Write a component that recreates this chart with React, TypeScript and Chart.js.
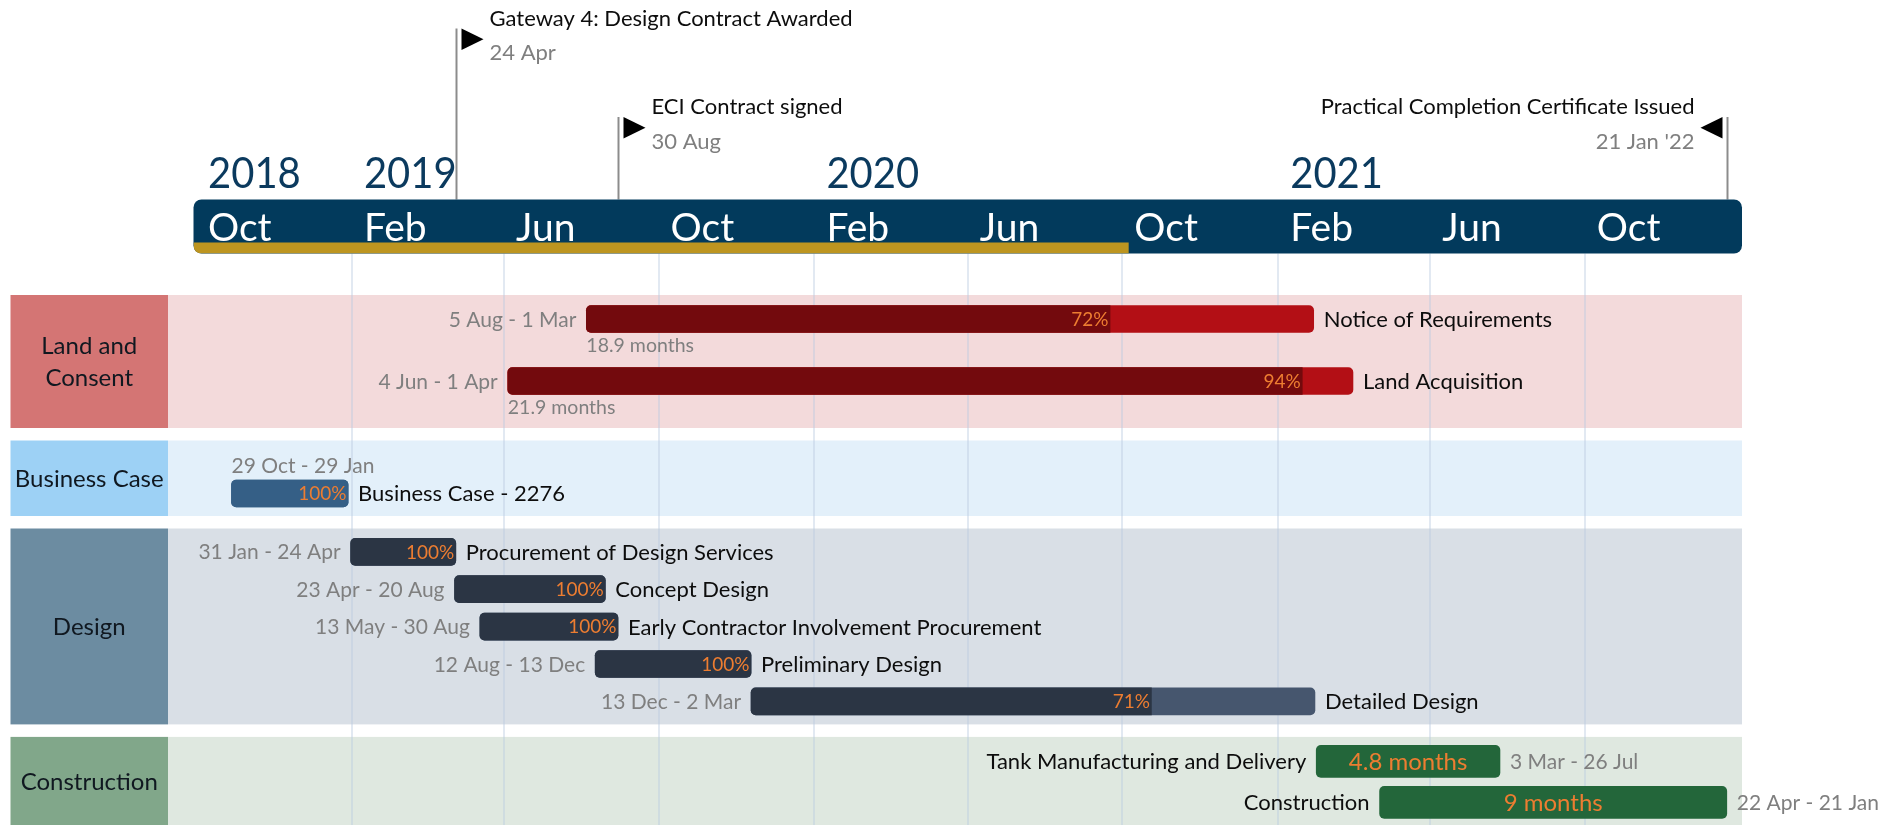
import React, { useEffect, useRef } from 'react';
import { Chart, registerables } from 'chart.js';

Chart.register(...registerables);

// ---------------- data ----------------
const groupNames = ['Land and Consent', 'Business Case', 'Design', 'Construction'];

const taskNames = [
  'Notice of Requirements',
  'Land Acquisition',
  'Business Case - 2276',
  'Procurement of Design Services',
  'Concept Design',
  'Early Contractor Involvement Procurement',
  'Preliminary Design',
  'Detailed Design',
  'Tank Manufacturing and Delivery',
  'Construction',
];
const taskGroups = [0, 0, 1, 2, 2, 2, 2, 2, 3, 3];
const taskStarts = [
  '2019-08-05', '2019-06-04', '2018-10-29', '2019-01-31', '2019-04-23',
  '2019-05-13', '2019-08-12', '2019-12-13', '2021-03-03', '2021-04-22',
];
const taskEnds = [
  '2021-03-01', '2021-04-01', '2019-01-29', '2019-04-24', '2019-08-20',
  '2019-08-30', '2019-12-13', '2021-03-02', '2021-07-26', '2022-01-21',
];
const taskProgress: (number | null)[] = [72, 94, 100, 100, 100, 100, 100, 71, null, null];

const milestoneNames = [
  'Gateway 4: Design Contract Awarded',
  'ECI Contract signed',
  'Practical Completion Certificate Issued',
];
const milestoneDates = ['2019-04-24', '2019-08-30', '2022-01-21'];
const milestoneDateLabels = ['24 Apr', '30 Aug', "21 Jan '22"];
const milestoneTiers = [1, 0, 0];

const axisStart = '2018-09-29';
const axisEnd = '2022-02-02';
const statusDate = '2020-10-06';

const monthTicks = [
  '2018-10-01', '2019-02-01', '2019-06-01', '2019-10-01', '2020-02-01',
  '2020-06-01', '2020-10-01', '2021-02-01', '2021-06-01', '2021-10-01',
];
const monthTickLabels = ['Oct', 'Feb', 'Jun', 'Oct', 'Feb', 'Jun', 'Oct', 'Feb', 'Jun', 'Oct'];
const yearLabels = ['2018', '2019', '2020', '2021'];
const yearLabelTicks = ['2018-10-01', '2019-02-01', '2020-02-01', '2021-02-01'];

// ---------------- style / layout ----------------
const W = 1897;
const H = 825;
const FONT = 'Lato';
const CAP = 0.72;

type GroupStyle = {
  box: string; band: string; done: string; rest: string; thickness: number;
  mode: 'land' | 'business' | 'design' | 'construction';
  padTop: number; pitch: number; padBottom: number;
};
const groupStyles: GroupStyle[] = [
  { box: '#D47574', band: '#F3DADB', done: '#730A0D', rest: '#B30F15', thickness: 27, mode: 'land', padTop: 24, pitch: 62, padBottom: 47 },
  { box: '#9DD1F5', band: '#E3F0FA', done: '#355F86', rest: '#355F86', thickness: 27, mode: 'business', padTop: 53, pitch: 37, padBottom: 22.5 },
  { box: '#6C8CA1', band: '#D9DFE6', done: '#2B3544', rest: '#46566E', thickness: 27, mode: 'design', padTop: 23.3, pitch: 37.4, padBottom: 23 },
  { box: '#81A78A', band: '#DFE8E0', done: '#23663A', rest: '#23663A', thickness: 32, mode: 'construction', padTop: 24.5, pitch: 41, padBottom: 24 },
];
const LAYOUT_TOP = 295;
const GROUP_GAP = 12.5;
const BOX_LEFT = 10.5;
const BOX_RIGHT = 168;
const AXIS_TOP = 199.5;
const AXIS_BOTTOM = 253.5;
const GOLD_H = 11;

const NAVY = '#023A5C';
const GOLD = '#BD9520';
const ORANGE = '#ED7D31';
const GREY = '#7F7F7F';
const INK = '#0D0D0D';

const MONTHS = ['Jan', 'Feb', 'Mar', 'Apr', 'May', 'Jun', 'Jul', 'Aug', 'Sep', 'Oct', 'Nov', 'Dec'];
const toDay = (iso: string) => {
  const [y, m, d] = iso.split('-').map(Number);
  return Date.UTC(y, m - 1, d) / 86400000;
};
const fmt = (iso: string) => {
  const [, m, d] = iso.split('-').map(Number);
  return `${d} ${MONTHS[m - 1]}`;
};
const durationLabel = (s: string, e: string) => {
  const r = Math.round(((toDay(e) - toDay(s)) / 30.4375) * 10) / 10;
  return `${Number.isInteger(r) ? r.toFixed(0) : r.toFixed(1)} months`;
};

function computeLayout() {
  const centers: number[] = [];
  const bands: { top: number; bottom: number }[] = [];
  let y = LAYOUT_TOP;
  groupNames.forEach((_, g) => {
    const st = groupStyles[g];
    const idx = taskGroups.map((tg, i) => (tg === g ? i : -1)).filter((i) => i >= 0);
    const top = y;
    idx.forEach((i, k) => { centers[i] = top + st.padTop + k * st.pitch; });
    const bottom = centers[idx[idx.length - 1]] + st.padBottom;
    bands.push({ top, bottom });
    y = bottom + GROUP_GAP;
  });
  return { centers, bands };
}

function drawText(
  ctx: CanvasRenderingContext2D, text: string, x: number, y: number, size: number,
  color: string, align: CanvasTextAlign = 'left', mode: 'center' | 'base' = 'center', squeeze = 1,
) {
  ctx.font = `${size}px ${FONT}`;
  ctx.fillStyle = color;
  ctx.textAlign = align;
  ctx.textBaseline = 'alphabetic';
  const by = mode === 'center' ? y + (size * CAP) / 2 : y;
  const w = ctx.measureText(text).width;
  ctx.fillText(text, x, by, w * squeeze);
}

function wrapLines(ctx: CanvasRenderingContext2D, text: string, maxW: number) {
  const words = text.split(' ');
  const lines: string[] = [];
  let cur = '';
  words.forEach((w) => {
    const t = cur ? cur + ' ' + w : w;
    if (cur && ctx.measureText(t).width > maxW) { lines.push(cur); cur = w; } else cur = t;
  });
  if (cur) lines.push(cur);
  return lines;
}

export default function App() {
  const ref = useRef<HTMLCanvasElement | null>(null);

  useEffect(() => {
    const canvas = ref.current;
    if (!canvas) return;
    const { centers, bands } = computeLayout();

    const datasets: any[] = [];
    groupNames.forEach((_, g) => {
      const st = groupStyles[g];
      const idx = taskGroups.map((tg, i) => (tg === g ? i : -1)).filter((i) => i >= 0);
      datasets.push({
        label: groupNames[g] + ' planned',
        data: idx.map((i) => ({ x: [toDay(taskStarts[i]), toDay(taskEnds[i])], y: centers[i] })),
        backgroundColor: st.rest,
        barThickness: st.thickness,
        borderRadius: 5,
        borderSkipped: false,
        grouped: false,
        order: 2,
      });
      const withProg = idx.filter((i) => taskProgress[i] !== null);
      if (withProg.length) {
        datasets.push({
          label: groupNames[g] + ' complete',
          data: withProg.map((i) => {
            const s = toDay(taskStarts[i]);
            const e = toDay(taskEnds[i]);
            return { x: [s, s + ((e - s) * (taskProgress[i] as number)) / 100], y: centers[i], p: taskProgress[i] };
          }),
          backgroundColor: st.done,
          barThickness: st.thickness,
          borderRadius: (c: any) => {
            const p = c.raw ? c.raw.p : 100;
            return p >= 100 ? 5 : { topLeft: 5, bottomLeft: 5, topRight: 0, bottomRight: 0 };
          },
          borderSkipped: false,
          grouped: false,
          order: 1,
        });
      }
    });

    const backgroundPlugin = {
      id: 'ganttBackground',
      beforeDatasetsDraw(chart: any) {
        const ctx: CanvasRenderingContext2D = chart.ctx;
        const xs = chart.scales.x;
        const left = chart.chartArea.left;
        const right = chart.chartArea.right;
        ctx.save();

        // category bands + boxes
        bands.forEach((b, g) => {
          const st = groupStyles[g];
          ctx.fillStyle = st.band;
          ctx.fillRect(BOX_RIGHT, b.top, right - BOX_RIGHT, b.bottom - b.top);
          ctx.fillStyle = st.box;
          ctx.fillRect(BOX_LEFT, b.top, BOX_RIGHT - BOX_LEFT, b.bottom - b.top);
          ctx.font = `24px ${FONT}`;
          const lines = wrapLines(ctx, groupNames[g], BOX_RIGHT - BOX_LEFT - 6);
          const cy = (b.top + Math.min(b.bottom, H)) / 2;
          const lh = 32;
          lines.forEach((ln, k) => {
            drawText(ctx, ln, (BOX_LEFT + BOX_RIGHT) / 2, cy + (k - (lines.length - 1) / 2) * lh, 24, '#101820', 'center');
          });
        });

        // vertical grid lines
        ctx.strokeStyle = 'rgba(185, 203, 225, 0.42)';
        ctx.lineWidth = 2;
        monthTicks.forEach((t, k) => {
          if (k === 0) return;
          const x = Math.round(xs.getPixelForValue(toDay(t)));
          ctx.beginPath();
          ctx.moveTo(x, AXIS_BOTTOM);
          ctx.lineTo(x, H);
          ctx.stroke();
        });

        // milestones
        milestoneNames.forEach((name, m) => {
          const x = Math.round(xs.getPixelForValue(toDay(milestoneDates[m]))) + 0.5;
          const top = milestoneTiers[m] === 1 ? 28.5 : 117;
          ctx.strokeStyle = '#8C8C8C';
          ctx.lineWidth = 2;
          ctx.beginPath();
          ctx.moveTo(x, top);
          ctx.lineTo(x, AXIS_TOP);
          ctx.stroke();
          const pointRight = x + 340 < right;
          const dir = pointRight ? 1 : -1;
          ctx.fillStyle = '#000';
          ctx.beginPath();
          ctx.moveTo(x + dir * 5, top);
          ctx.lineTo(x + dir * 5, top + 21.5);
          ctx.lineTo(x + dir * 27, top + 10.75);
          ctx.closePath();
          ctx.fill();
          const tx = x + dir * 33;
          const al: CanvasTextAlign = pointRight ? 'left' : 'right';
          drawText(ctx, name, tx, top - 3, 22, INK, al, 'base');
          drawText(ctx, milestoneDateLabels[m], tx, top + 31.5, 22, GREY, al, 'base');
        });

        // axis bar
        const axisPath = new Path2D();
        axisPath.roundRect(left, AXIS_TOP, right - left, AXIS_BOTTOM - AXIS_TOP, 8);
        ctx.fillStyle = NAVY;
        ctx.fill(axisPath);
        ctx.save();
        ctx.clip(axisPath);
        ctx.fillStyle = GOLD;
        const sx = xs.getPixelForValue(toDay(statusDate));
        ctx.fillRect(left, AXIS_BOTTOM - GOLD_H, sx - left, GOLD_H);
        ctx.restore();

        monthTicks.forEach((t, k) => {
          const x = xs.getPixelForValue(toDay(t));
          drawText(ctx, monthTickLabels[k], x + 12, 241, 39, '#FFFFFF', 'left', 'base');
        });
        yearLabels.forEach((yl, k) => {
          const x = xs.getPixelForValue(toDay(yearLabelTicks[k]));
          drawText(ctx, yl, x + 12, 188, 43, '#0B3A5E', 'left', 'base', 0.93);
        });

        ctx.restore();
      },
    };

    const labelPlugin = {
      id: 'ganttLabels',
      afterDatasetsDraw(chart: any) {
        const ctx: CanvasRenderingContext2D = chart.ctx;
        const xs = chart.scales.x;
        const ys = chart.scales.y;
        ctx.save();
        taskNames.forEach((name, i) => {
          const st = groupStyles[taskGroups[i]];
          const s0 = toDay(taskStarts[i]);
          const e0 = toDay(taskEnds[i]);
          const s = xs.getPixelForValue(s0);
          const e = xs.getPixelForValue(e0);
          const c = ys.getPixelForValue(centers[i]);
          const dates = `${fmt(taskStarts[i])} - ${fmt(taskEnds[i])}`;
          const p = taskProgress[i];
          if (st.mode === 'construction') {
            drawText(ctx, name, s - 10, c, 22, INK, 'right');
            drawText(ctx, dates, e + 10, c, 21, GREY, 'left');
            drawText(ctx, durationLabel(taskStarts[i], taskEnds[i]), (s + e) / 2, c, 24, ORANGE, 'center');
            return;
          }
          drawText(ctx, name, e + 10, c, 22, INK, 'left');
          if (st.mode === 'business') {
            drawText(ctx, dates, s, c - 28.5, 21, GREY, 'left');
          } else {
            drawText(ctx, dates, s - 10, c, 21, GREY, 'right');
          }
          if (st.mode === 'land') {
            drawText(ctx, durationLabel(taskStarts[i], taskEnds[i]), s, c + 26, 19.5, GREY, 'left');
          }
          if (p !== null) {
            const px = xs.getPixelForValue(s0 + ((e0 - s0) * p) / 100);
            drawText(ctx, `${p}%`, px - 1.5, c, 19, ORANGE, 'right');
          }
        });
        ctx.restore();
      },
    };

    const chart = new Chart(canvas, {
      type: 'bar',
      data: { datasets },
      options: {
        indexAxis: 'y',
        responsive: false,
        maintainAspectRatio: false,
        animation: false,
        devicePixelRatio: 1,
        events: [],
        layout: { padding: { left: 193.5, right: W - 1742, top: 0, bottom: 0 } },
        scales: {
          x: { type: 'linear', min: toDay(axisStart), max: toDay(axisEnd), display: false, offset: false },
          y: { type: 'linear', min: 0, max: H, reverse: true, display: false, offset: false },
        },
        plugins: { legend: { display: false }, tooltip: { enabled: false } },
      } as any,
      plugins: [backgroundPlugin, labelPlugin],
    });
    return () => chart.destroy();
  }, []);

  return (
    <div style={{ position: 'fixed', left: 0, top: 0, width: W, height: H, background: '#fff' }}>
      <canvas ref={ref} width={W} height={H} style={{ display: 'block', width: W, height: H }} />
    </div>
  );
}
